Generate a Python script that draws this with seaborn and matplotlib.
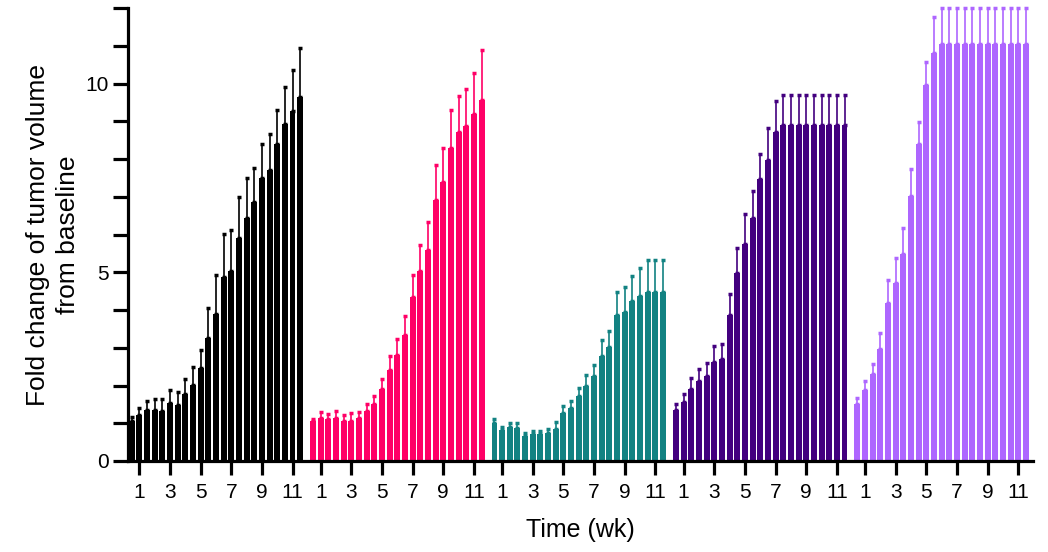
import numpy as np
import pandas as pd
import seaborn as sns
import matplotlib.pyplot as plt

# fold change of tumor volume, mean + SD, five groups
weeks = [0.5, 1, 1.5, 2, 2.5, 3, 3.5, 4, 4.5, 5, 5.5, 6, 6.5, 7, 7.5, 8,
         8.5, 9, 9.5, 10, 10.5, 11, 11.5]
groups = ['G1', 'G2', 'G3', 'G4', 'G5']
colors = ['#000000', '#FF0066', '#128282', '#43007F', '#AE66FF']

g1_mean = [1.06, 1.22, 1.36, 1.36, 1.33, 1.54, 1.49, 1.78, 2.02, 2.47, 3.27, 3.89,
           4.87, 5.03, 5.90, 6.44, 6.86, 7.50, 7.71, 8.40, 8.94, 9.26, 9.63]
g1_sd = [0.10, 0.18, 0.24, 0.28, 0.31, 0.34, 0.33, 0.39, 0.47, 0.48, 0.77, 1.04,
         1.15, 1.08, 1.10, 1.05, 0.90, 0.91, 0.94, 0.89, 0.98, 1.10, 1.32]
g2_mean = [1.05, 1.15, 1.10, 1.13, 1.07, 1.07, 1.13, 1.33, 1.52, 1.91, 2.42, 2.82,
           3.35, 4.34, 5.03, 5.59, 6.91, 7.39, 8.30, 8.72, 8.88, 9.20, 9.57]
g2_sd = [0.07, 0.14, 0.14, 0.19, 0.14, 0.20, 0.18, 0.19, 0.20, 0.27, 0.37, 0.42,
         0.50, 0.60, 0.70, 0.73, 0.92, 0.90, 1.01, 0.95, 0.97, 1.07, 1.31]
g3_mean = [1.01, 0.82, 0.90, 0.88, 0.66, 0.72, 0.72, 0.74, 0.85, 1.28, 1.41, 1.73,
           1.99, 2.26, 2.79, 3.03, 3.86, 3.96, 4.23, 4.36, 4.47, 4.47, 4.47]
g3_sd = [0.10, 0.08, 0.10, 0.12, 0.09, 0.08, 0.08, 0.12, 0.17, 0.17, 0.17, 0.20,
         0.29, 0.29, 0.42, 0.42, 0.63, 0.64, 0.67, 0.76, 0.85, 0.85, 0.85]
g4_mean = [1.36, 1.57, 1.91, 2.13, 2.26, 2.61, 2.69, 3.86, 4.97, 5.74, 6.44, 7.47,
           7.98, 8.72, 8.91, 8.91, 8.91, 8.91, 8.91, 8.91, 8.91, 8.91, 8.91]
g4_sd = [0.14, 0.20, 0.28, 0.31, 0.33, 0.44, 0.40, 0.56, 0.68, 0.79, 0.70, 0.67,
         0.83, 0.81, 0.78, 0.78, 0.78, 0.78, 0.78, 0.78, 0.78, 0.78, 0.78]
g5_mean = [1.52, 1.89, 2.31, 2.98, 4.18, 4.71, 5.48, 7.02, 8.40, 9.95, 10.80, 11.04,
           11.04, 11.04, 11.04, 11.04, 11.04, 11.04, 11.04, 11.04, 11.04, 11.04, 11.04]
g5_sd = [0.14, 0.22, 0.26, 0.42, 0.62, 0.67, 0.70, 0.71, 0.59, 0.62, 0.95, 0.96,
         0.96, 0.96, 0.96, 0.96, 0.96, 0.96, 0.96, 0.96, 0.96, 0.96, 0.96]
tick_weeks = [1, 3, 5, 7, 9, 11]

means = [g1_mean, g2_mean, g3_mean, g4_mean, g5_mean]
sds = [g1_sd, g2_sd, g3_sd, g4_sd, g5_sd]
group_step = 11.84  # offset of each group on the shared x axis

rows = []
for gi, g in enumerate(groups):
    for w, m, s in zip(weeks, means[gi], sds[gi]):
        rows.append([g, round(gi * group_step + w, 3), m, s])
df = pd.DataFrame(rows, columns=['group', 'pos', 'mean', 'sd'])

sns.set_theme(style="ticks")
plt.rcParams['font.family'] = ['Liberation Sans', 'DejaVu Sans']
plt.rcParams['text.color'] = 'black'
plt.rcParams['axes.labelcolor'] = 'black'
plt.rcParams['xtick.labelcolor'] = 'black'
plt.rcParams['ytick.labelcolor'] = 'black'

fig = plt.figure(figsize=(10.48, 5.52), dpi=100)
ax = fig.add_axes([128/1048, 91/552, 905/1048, 453/552])

sns.barplot(data=df, x='pos', y='mean', hue='group', palette=colors,
            native_scale=True, dodge=False, width=0.78, errorbar=None,
            saturation=1, linewidth=0, legend=False, ax=ax)

for gi, g in enumerate(groups):
    d = df[df['group'] == g]
    ax.errorbar(d['pos'], d['mean'], yerr=[np.zeros(len(d)), d['sd']],
                fmt='none', ecolor=colors[gi], elinewidth=1.2, capsize=1.2,
                capthick=2.5, clip_on=False, zorder=3)

ax.set_xlim(0.265, 59.32)
ax.set_ylim(0, 12)
ax.set_yticks([0, 5, 10])
ax.set_yticks(range(0, 13), minor=True)
xt = [gi * group_step + t for gi in range(len(groups)) for t in tick_weeks]
ax.set_xticks(xt)
ax.set_xticklabels([str(t) for gi in range(len(groups)) for t in tick_weeks])

sns.despine(ax=ax)
for sp in ['left', 'bottom']:
    ax.spines[sp].set_linewidth(2.3)
    ax.spines[sp].set_color('black')
ax.tick_params(axis='y', which='both', length=11, width=2.3, color='black',
               labelcolor='black', labelsize=15, pad=3)
ax.tick_params(axis='x', which='major', length=10, width=2.3, color='black',
               labelcolor='black', labelsize=15, pad=6)

ax.set_xlabel('Time (wk)', fontsize=18, labelpad=11, color='black')
ax.set_ylabel('Fold change of tumor volume\nfrom baseline', fontsize=19,
              labelpad=4, linespacing=1.3, color='black')

plt.savefig('out.png', dpi=100)
